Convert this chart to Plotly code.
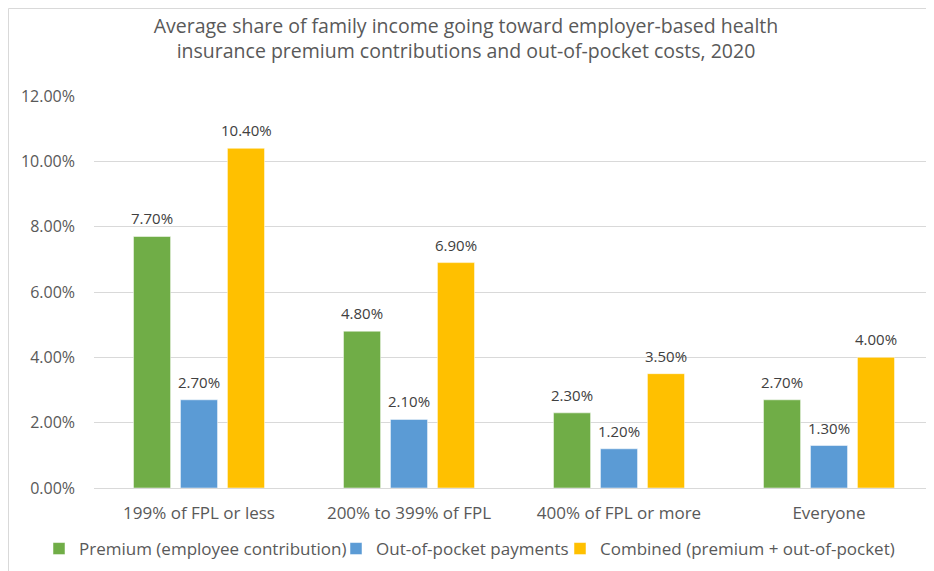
import plotly.graph_objects as go

categories = ["199% of FPL or less", "200% to 399% of FPL", "400% of FPL or more", "Everyone"]
premium = [7.7, 4.8, 2.3, 2.7]
out_of_pocket = [2.7, 2.1, 1.2, 1.3]
combined = [10.4, 6.9, 3.5, 4.0]
series_names = ["Premium (employee contribution)", "Out-of-pocket payments", "Combined (premium + out-of-pocket)"]
colors = ["#70AD47", "#5B9BD5", "#FFC000"]
tick_vals = [0, 2, 4, 6, 8, 10, 12]
tick_text = [f"{v:.2f}%" for v in tick_vals]

FONT = "Open Sans"
W, H = 934, 571
OFF = 8  # page body margin offset in the rendered screenshot
L, R, T, B = 94 - OFF, OFF, 96 - OFF, 83 + OFF
pw, ph = W - L - R, H - T - B

legend_names = ["legend", "legend2", "legend3"]
legend_text_x = [78, 375, 599]
bar_shift = [-47, 0, 47]

fig = go.Figure()
annotations = []
for name, vals, col, lg, dx in zip(series_names, [premium, out_of_pocket, combined], colors, legend_names, bar_shift):
    fig.add_trace(go.Bar(
        x=categories, y=vals, name=name, legend=lg,
        marker=dict(color=col, line=dict(color="white", width=0.5)),
        hoverinfo="x+y+name",
    ))
    for c, v in zip(categories, vals):
        annotations.append(dict(x=c, y=v, xref="x", yref="y", text=f"{v:.2f}%", showarrow=False,
                                xshift=dx, yshift=6, yanchor="bottom", xanchor="center",
                                font=dict(family=FONT, size=15, color="#404040")))

legend_common = dict(orientation="h", xref="container", yref="container", xanchor="left",
                     y=1 - (549 - OFF) / H, yanchor="middle", bgcolor="rgba(0,0,0,0)",
                     font=dict(family=FONT, size=17, color="#595959"), itemwidth=30)
layout_legends = {}
for lg, tx in zip(legend_names, legend_text_x):
    layout_legends[lg] = dict(legend_common, x=(tx - 47) / W)

fig.update_layout(
    width=W, height=H,
    margin=dict(l=L, r=R, t=T, b=B, autoexpand=False),
    paper_bgcolor="white", plot_bgcolor="white",
    barmode="group", bargap=0.329, bargroupgap=0.21,
    title=dict(text="Average share of family income going toward employer-based health<br>insurance premium contributions and out-of-pocket costs, 2020",
               x=(466 - OFF) / W, xref="container", xanchor="center", y=1 - 25 / H, yanchor="top", yref="container",
               font=dict(family=FONT, size=19.5, color="#595959")),
    font=dict(family=FONT, color="#595959"),
    yaxis=dict(range=[0, 12], tickvals=tick_vals, ticktext=tick_text, showgrid=True,
               gridcolor="#D9D9D9", gridwidth=1, zeroline=False, showline=False,
               tickfont=dict(family=FONT, size=16, color="#595959"), ticklabelstandoff=18),
    xaxis=dict(showline=True, linecolor="#D9D9D9", linewidth=1, ticks="",
               tickfont=dict(family=FONT, size=17, color="#595959"), ticklabelstandoff=10),
    showlegend=True,
    annotations=annotations,
    shapes=[dict(type="rect", xref="paper", yref="paper",
                 x0=(0.5 - L) / pw, x1=2, y0=-1, y1=(H - B - 0.5) / ph,
                 line=dict(color="#D9D9D9", width=1), fillcolor="rgba(0,0,0,0)", layer="below")],
    **layout_legends,
)
fig.write_html("out.html")
